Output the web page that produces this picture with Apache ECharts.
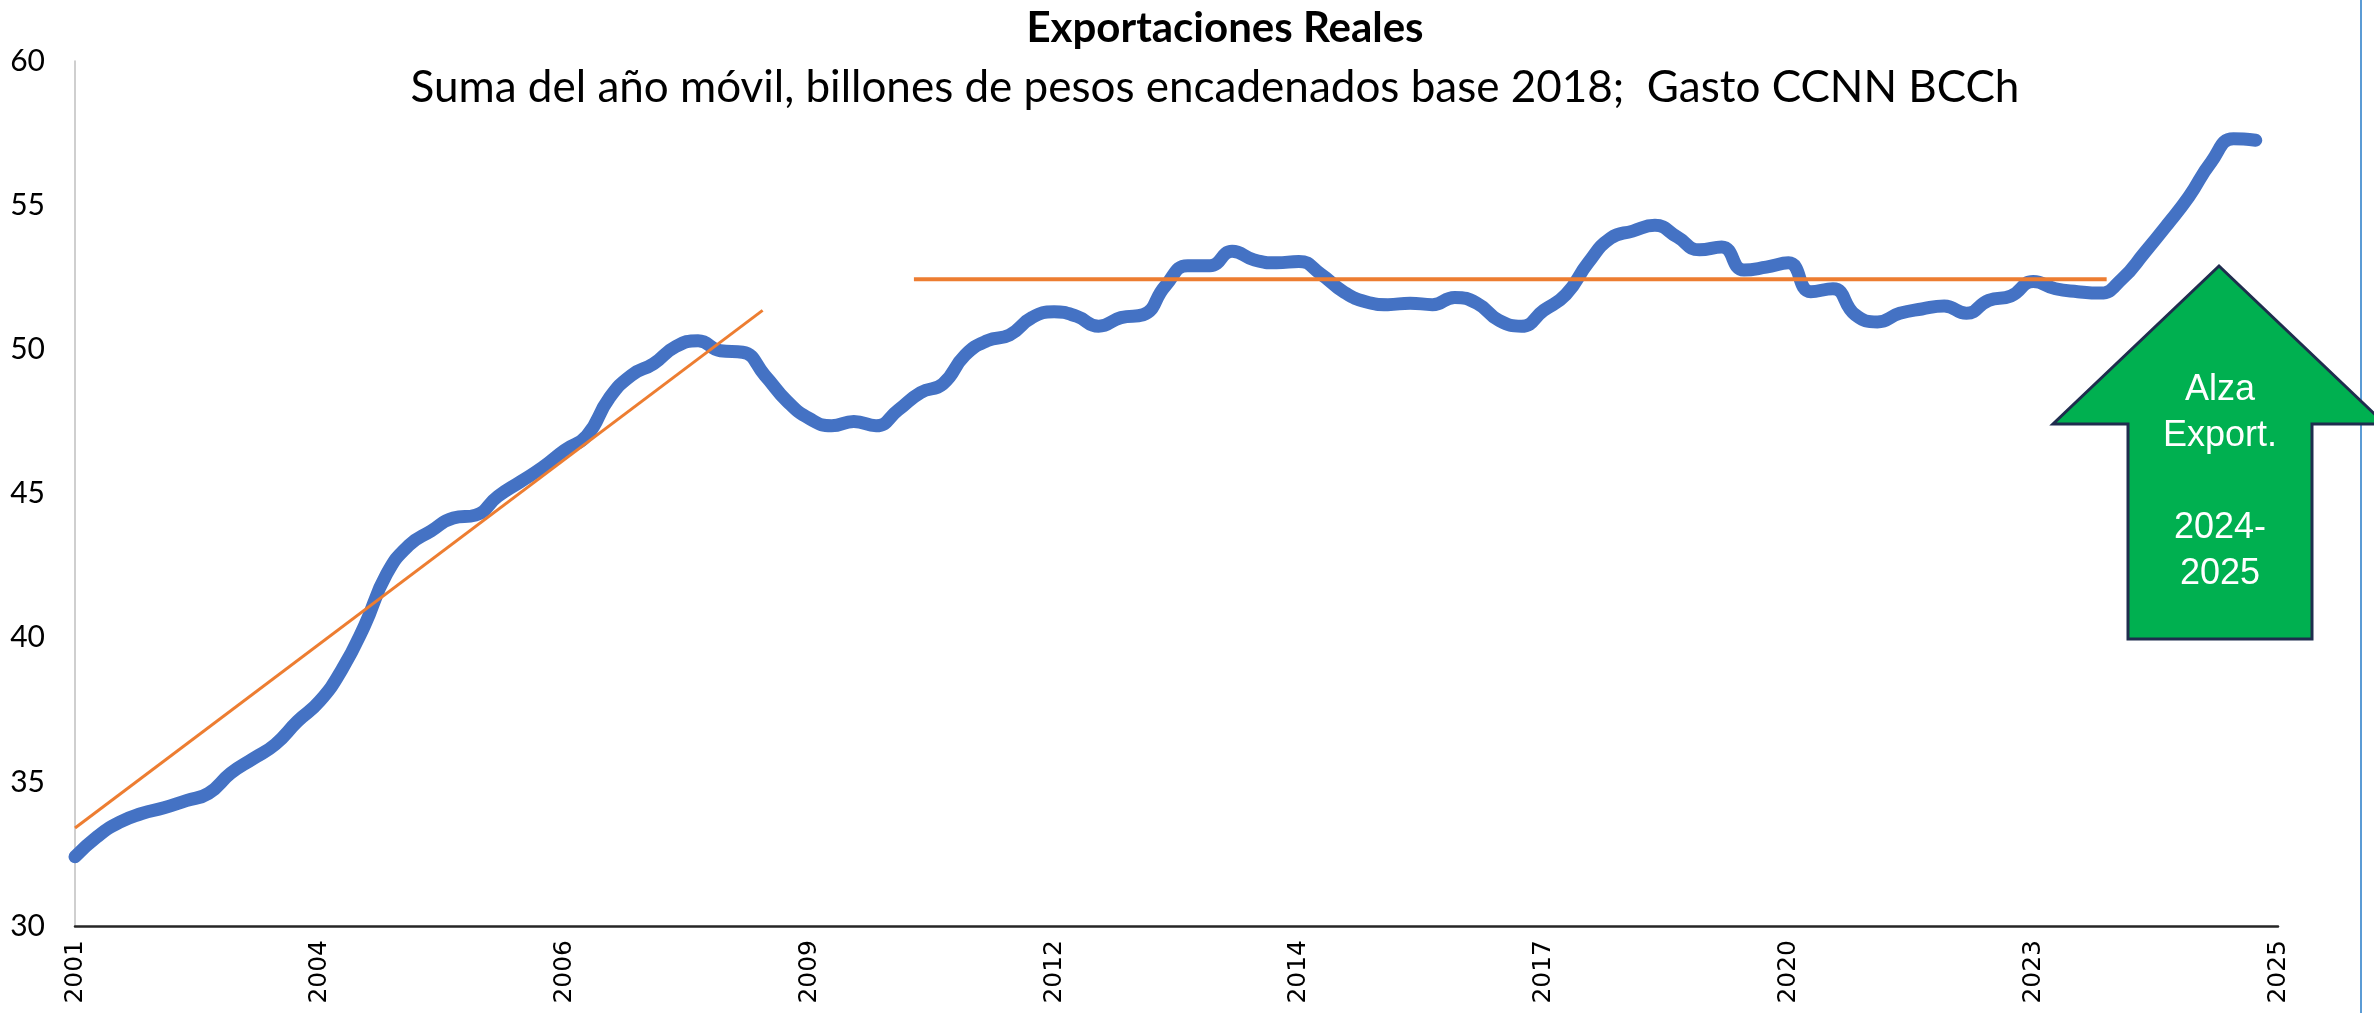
<!DOCTYPE html>
<html>
<head>
<meta charset="utf-8">
<script src="https://cdn.jsdelivr.net/npm/echarts@6/dist/echarts.min.js"></script>
<style>
  html, body { margin: 0; padding: 0; background: #fff; }
  #chart { width: 2374px; height: 1013px; }
</style>
</head>
<body>
<div id="chart"></div>
<script>
// quarterly rolling sums, 2001Q1 .. 2025Q3 (x = quarter index)
const xTickLabels = ['2001', '2004', '2006', '2009', '2012', '2014', '2017', '2020', '2023', '2025']
const exportsReal = [
  32.4, 33.1, 33.6, 33.9, 34.1, 34.35, 34.6, 35.3, 35.8, 36.3,
  37.1, 37.8, 38.9, 40.4, 42.2, 43.2, 43.7, 44.15, 44.25, 44.9,
  45.4, 45.9, 46.5, 47.0, 48.3, 49.1, 49.5, 50.1, 50.3, 49.95,
  49.9, 49.1, 48.2, 47.6, 47.35, 47.5, 47.35, 47.9, 48.5, 48.8,
  49.8, 50.3, 50.5, 51.1, 51.3, 51.15, 50.8, 51.1, 51.2, 52.2,
  52.9, 52.9, 53.4, 53.1, 53.0, 53.05, 52.6, 52.0, 51.65, 51.55,
  51.6, 51.55, 51.8, 51.6, 51.0, 50.8, 51.35, 51.9, 53.0, 53.85,
  54.1, 54.3, 53.9, 53.45, 53.55, 52.75, 52.85, 53.0, 52.0, 52.1,
  51.2, 50.95, 51.25, 51.4, 51.5, 51.25, 51.7, 51.85, 52.35, 52.1,
  52.0, 51.95, 52.45, 53.35, 54.3, 55.3, 56.5, 57.3, 57.25
]
// hand-drawn trend lines: [quarter index, value]
const trendUp = [[0, 33.4], [30.9, 51.35]]
const trendFlat = [[37.7, 52.43], [91.3, 52.43]]

const titleText = 'Exportaciones Reales'
const subtitleText = 'Suma del año móvil, billones de pesos encadenados base 2018;  Gasto CCNN BCCh'
const arrowText = 'Alza\nExport.\n\n2024-\n2025'

const chart = echarts.init(document.getElementById('chart'), null, { renderer: 'canvas' })

const option = {
    backgroundColor: '#fff',
    animation: false,
    grid: { left: 75, right: 96, top: 61, bottom: 87, containLabel: false },
    xAxis: {
        type: 'value',
        min: 0,
        max: 99,
        interval: 11,
        axisLine: { show: true, lineStyle: { color: '#262626', width: 2.5 } },
        axisTick: { show: false },
        splitLine: { show: false },
        axisLabel: {
            rotate: 90,
            margin: 14,
            color: '#000',
            fontFamily: 'DejaVu Sans',
            fontSize: 25,
            formatter: (v) => xTickLabels[Math.round(v / 11)] || ''
        }
    },
    yAxis: {
        type: 'value',
        min: 30,
        max: 60,
        interval: 5,
        axisLine: { show: true, lineStyle: { color: '#BFBFBF', width: 1.5 } },
        axisTick: { show: false },
        splitLine: { show: false },
        axisLabel: {
            margin: 30,
            color: '#000',
            fontFamily: 'Lato',
            fontSize: 30
        }
    },
    series: [
        {
            name: 'Exportaciones',
            type: 'line',
            data: exportsReal.map((v, i) => [i, v]),
            smooth: 0.5,
            symbol: 'none',
            lineStyle: { color: '#4472C4', width: 13, cap: 'round', join: 'round' },
            z: 2
        },
        {
            name: 'trend1',
            type: 'line',
            data: trendUp,
            symbol: 'none',
            lineStyle: { color: '#ED7D31', width: 3 },
            z: 3
        },
        {
            name: 'trend2',
            type: 'line',
            data: trendFlat,
            symbol: 'none',
            lineStyle: { color: '#ED7D31', width: 4 },
            z: 3
        }
    ],
    graphic: [
        {
            type: 'text', x: 1225, y: 28,
            style: { text: titleText, font: 'bold 42px Lato', fill: '#000', align: 'center', verticalAlign: 'middle' }
        },
        {
            type: 'text', x: 1215, y: 88,
            style: { text: subtitleText, font: '44px Lato', fill: '#000', align: 'center', verticalAlign: 'middle' }
        },
        {
            type: 'line',
            shape: { x1: 2361, y1: 0, x2: 2361, y2: 1013 },
            style: { stroke: '#5B9BD5', lineWidth: 2 }
        },
        {
            type: 'polygon',
            z: 10,
            shape: {
                points: [[2219, 266], [2053, 424], [2128, 424], [2128, 639], [2312, 639], [2312, 424], [2385, 424]]
            },
            style: { fill: '#00B050', stroke: '#1F2D4E', lineWidth: 3 }
        },
        {
            type: 'text', x: 2220, y: 482, z: 11,
            style: {
                text: arrowText, font: '36px "Liberation Sans"', fill: '#fff',
                align: 'center', verticalAlign: 'middle', lineHeight: 46
            }
        }
    ]
}

chart.setOption(option)
</script>
</body>
</html>
